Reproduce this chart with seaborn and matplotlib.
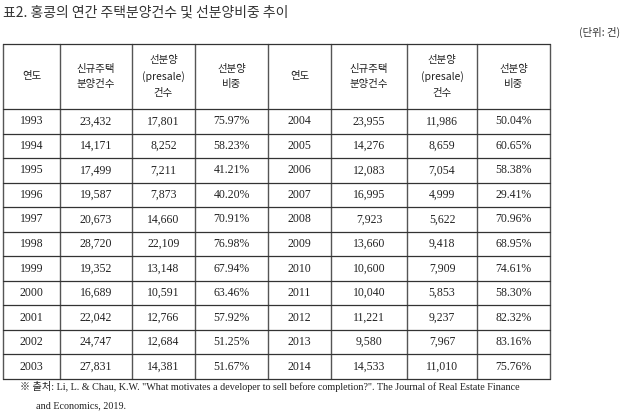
import seaborn as sns
import matplotlib.pyplot as plt

sns.set_theme(style="white")

years_a = [1993, 1994, 1995, 1996, 1997, 1998, 1999, 2000, 2001, 2002, 2003]
new_a = ["23,432", "14,171", "17,499", "19,587", "20,673", "28,720", "19,352", "16,689", "22,042", "24,747", "27,831"]
pre_a = ["17,801", "8,252", "7,211", "7,873", "14,660", "22,109", "13,148", "10,591", "12,766", "12,684", "14,381"]
pct_a = ["75.97%", "58.23%", "41.21%", "40.20%", "70.91%", "76.98%", "67.94%", "63.46%", "57.92%", "51.25%", "51.67%"]

years_b = [2004, 2005, 2006, 2007, 2008, 2009, 2010, 2011, 2012, 2013, 2014]
new_b = ["23,955", "14,276", "12,083", "16,995", "7,923", "13,660", "10,600", "10,040", "11,221", "9,580", "14,533"]
pre_b = ["11,986", "8,659", "7,054", "4,999", "5,622", "9,418", "7,909", "5,853", "9,237", "7,967", "11,010"]
pct_b = ["50.04%", "60.65%", "58.38%", "29.41%", "70.96%", "68.95%", "74.61%", "58.30%", "82.32%", "83.16%", "75.76%"]

headers = ["연도", "신규주택\n분양건수", "선분양\n(presale)\n건수", "선분양\n비중"] * 2

CJK = ["Noto Sans CJK KR", "Noto Sans CJK JP", "Noto Sans CJK SC"]
KR = CJK
NUM = ["Liberation Serif"] + CJK
plt.rcParams["font.family"] = NUM

fig = plt.figure(figsize=(6.4, 4.15), dpi=100)
ax = fig.add_axes([0, 0, 1, 1])
ax.set_xlim(0, 640)
ax.set_ylim(415, 0)
ax.axis("off")

xs = [3, 60, 132, 195, 268, 331, 407, 477, 550]
top, head_bot, bottom = 44, 109, 379
n = len(years_a)
row_h = (bottom - head_bot) / n
ys = [head_bot + i * row_h for i in range(n + 1)]

# grid
for x in xs:
    ax.plot([x, x], [top, bottom], color="#555555", lw=1.0)
for y in [top] + ys:
    ax.plot([xs[0], xs[-1]], [y, y], color="#333333", lw=0.9)

# header
for j, h in enumerate(headers):
    cx = (xs[j] + xs[j + 1]) / 2
    ax.text(cx, (top + head_bot) / 2, h, ha="center", va="center",
            fontsize=7.5, family=KR, color="#222222", linespacing=1.7)

cols = [years_a, new_a, pre_a, pct_a, years_b, new_b, pre_b, pct_b]
for j, col in enumerate(cols):
    cx = (xs[j] + xs[j + 1]) / 2
    for i, v in enumerate(col):
        ax.text(cx, ys[i] + row_h / 2, str(v), ha="center", va="center",
                fontsize=8.5, family=NUM, color="#222222")

ax.text(3, 13, "표2. 홍콩의 연간 주택분양건수 및 선분양비중 추이", ha="left", va="center",
        fontsize=10, family=KR, color="#333333")
ax.text(620, 32, "(단위: 건)", ha="right", va="center", fontsize=7.5, family=KR, color="#333333")
ax.text(20, 386, "※ 출처: Li, L. & Chau, K.W. \"What motivates a developer to sell before completion?\". The Journal of Real Estate Finance",
        ha="left", va="center", fontsize=7.3, family=NUM, color="#222222")
ax.text(36, 406, "and Economics, 2019.", ha="left", va="center", fontsize=7.3, family=NUM, color="#222222")

fig.savefig("out.png", dpi=100)
